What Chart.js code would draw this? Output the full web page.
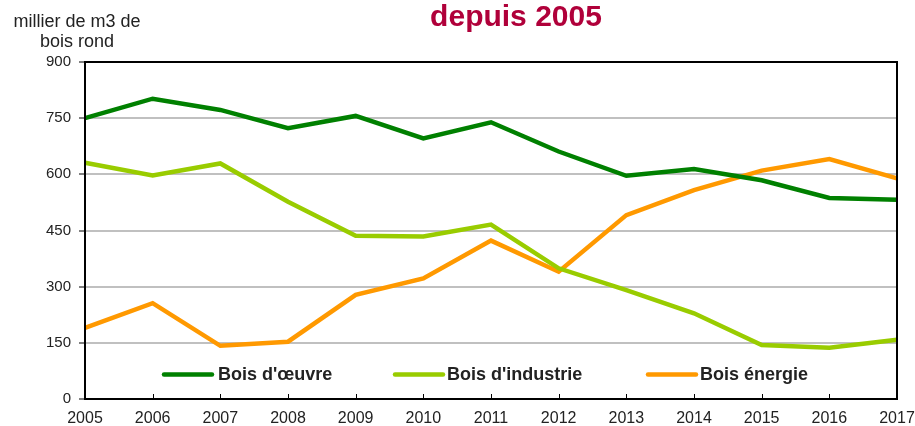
<!DOCTYPE html>
<html lang="fr">
<head>
    <meta charset="UTF-8">
    <title>Récolte de bois depuis 2005</title>
    <script src="https://cdn.jsdelivr.net/npm/chart.js"></script>
    <style>
        html, body {
            margin: 0;
            padding: 0;
            background: #fff;
        }
        #wrap {
            width: 915px;
            height: 426px;
        }
    </style>
</head>
<body>
    <div id="wrap"><canvas id="myChart" width="915" height="426"></canvas></div>

    <script>
        // Data
        const years = ['2005', '2006', '2007', '2008', '2009', '2010', '2011', '2012', '2013', '2014', '2015', '2016', '2017'];
        const boisOeuvre = [750, 802, 772, 723, 756, 696, 739, 661, 596, 614, 584, 537, 532];
        const boisIndustrie = [631, 597, 629, 527, 436, 434, 466, 349, 291, 229, 144, 137, 158];
        const boisEnergie = [190, 256, 142, 153, 278, 322, 423, 340, 491, 558, 610, 641, 589];
        const yTicks = [0, 150, 300, 450, 600, 750, 900];

        const sans = '"Liberation Sans", Arial, sans-serif';

        // Title, unit label, frame, inward x ticks and in-plot legend
        const decor = {
            id: 'decor',
            afterDraw(chart) {
                const ctx = chart.ctx;
                const a = chart.chartArea;
                const xs = chart.scales.x;
                ctx.save();
                // frame
                ctx.strokeStyle = '#000';
                ctx.lineWidth = 2;
                ctx.strokeRect(a.left, a.top, a.right - a.left, a.bottom - a.top);

                // small x ticks pointing into the plot
                ctx.lineWidth = 1;
                xs.ticks.forEach((t, i) => {
                    const x = Math.round(xs.getPixelForTick(i)) + 0.5;
                    ctx.beginPath();
                    ctx.moveTo(x, a.bottom);
                    ctx.lineTo(x, a.bottom - 5);
                    ctx.stroke();
                });

                // title
                ctx.fillStyle = '#b0003a';
                ctx.font = 'bold 30px ' + sans;
                ctx.textAlign = 'center';
                ctx.textBaseline = 'alphabetic';
                ctx.fillText('depuis 2005', 516, 26);

                // unit label
                ctx.fillStyle = '#222';
                ctx.font = '18px ' + sans;
                ctx.fillText('millier de m3 de', 77, 27);
                ctx.fillText('bois rond', 77, 47);

                // legend
                const items = [
                    { x: 164, tx: 218 },
                    { x: 395, tx: 447 },
                    { x: 648, tx: 700 }
                ];
                ctx.font = 'bold 18px ' + sans;
                ctx.textAlign = 'left';
                ctx.textBaseline = 'middle';
                chart.data.datasets.forEach((ds, i) => {
                    const it = items[i];
                    ctx.strokeStyle = ds.borderColor;
                    ctx.lineWidth = 4.5;
                    ctx.lineCap = 'round';
                    ctx.beginPath();
                    ctx.moveTo(it.x, 374.5);
                    ctx.lineTo(it.x + 48, 374.5);
                    ctx.stroke();
                    ctx.fillStyle = '#222';
                    ctx.fillText(ds.label, it.tx, 375);
                });
                ctx.restore();
            }
        };

        const ctx = document.getElementById('myChart').getContext('2d');
        new Chart(ctx, {
            type: 'line',
            data: {
                labels: years,
                datasets: [
                    { label: "Bois d'œuvre", data: boisOeuvre, borderColor: '#008000' },
                    { label: "Bois d'industrie", data: boisIndustrie, borderColor: '#99cc00' },
                    { label: 'Bois énergie', data: boisEnergie, borderColor: '#ff9900' }
                ]
            },
            options: {
                responsive: false,
                animation: false,
                layout: { padding: { top: 62, right: 18, left: 0, bottom: 0 } },
                elements: {
                    line: { borderWidth: 4.5, tension: 0, borderJoinStyle: 'miter' },
                    point: { radius: 0 }
                },
                plugins: {
                    legend: { display: false },
                    title: { display: false },
                    tooltip: { enabled: false }
                },
                scales: {
                    x: {
                        offset: false,
                        grid: { drawOnChartArea: false, drawTicks: false },
                        border: { color: '#000', width: 2 },
                        ticks: {
                            color: '#222',
                            font: { family: sans, size: 16 },
                            padding: 10,
                            maxRotation: 0,
                            autoSkip: false
                        },
                        afterFit(s) {
                            s.height = 27;
                            s.paddingLeft = 0;
                            s.paddingRight = 0;
                        }
                    },
                    y: {
                        min: 0,
                        max: 900,
                        afterBuildTicks(s) { s.ticks = yTicks.map(v => ({ value: v })); },
                        grid: {
                            color: '#c0c0c0',
                            lineWidth: 2,
                            tickLength: 6,
                            tickColor: '#000',
                            tickWidth: 1
                        },
                        border: { color: '#000', width: 2 },
                        ticks: {
                            color: '#222',
                            font: { family: sans, size: 15 },
                            padding: 8
                        },
                        afterFit(s) {
                            s.width = 85;
                            s.paddingTop = 0;
                            s.paddingBottom = 0;
                        }
                    }
                }
            },
            plugins: [decor]
        });
    </script>
</body>
</html>
